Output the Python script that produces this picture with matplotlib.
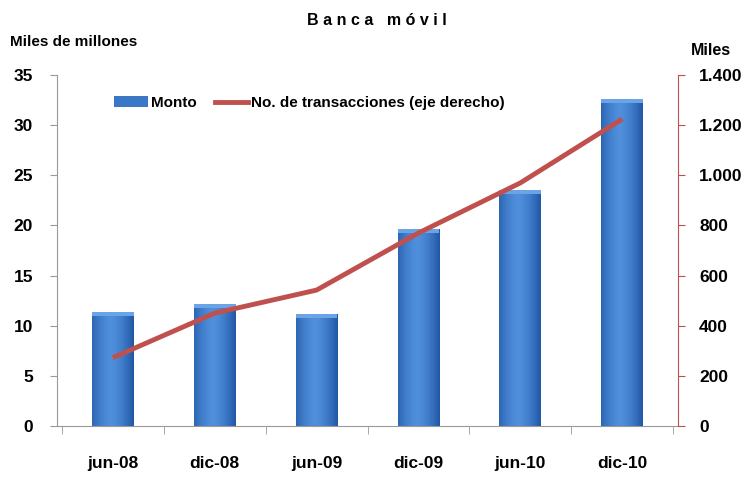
import matplotlib.pyplot as plt
import numpy as np
from matplotlib.patches import Patch
from matplotlib.lines import Line2D
from matplotlib.colors import LinearSegmentedColormap

periodos = ["jun-08", "dic-08", "jun-09", "dic-09", "jun-10", "dic-10"]
monto = [11.4, 12.2, 11.2, 19.6, 23.5, 32.6]          # miles de millones
transacciones = [272, 450, 542, 770, 970, 1225]       # miles

fam = ["Liberation Sans Narrow", "Liberation Sans", "DejaVu Sans"]
plt.rcParams['font.family'] = fam

fig = plt.figure(figsize=(7.47, 4.79), dpi=100)
ax = fig.add_axes([0.076, 0.111, 0.832, 0.732])
ax2 = ax.twinx()

x = np.arange(len(periodos))
bars = ax.bar(x, monto, width=0.41, color="#3a77c6", zorder=2)

# gradient fill on bars
grad = np.linspace(0, 1, 64)
grad = 1 - (2 * np.abs(grad - 0.45)) ** 1.5
grad = np.tile(grad, (2, 1))
cmap = LinearSegmentedColormap.from_list("b", ["#2258a6", "#4f8fdc"])
for b in bars:
    bx, by, bw, bh = b.get_x(), b.get_y(), b.get_width(), b.get_height()
    im = ax.imshow(grad, cmap=cmap, aspect="auto", extent=[bx, bx + bw, by, by + bh], zorder=2.1)
    im.set_clip_path(b)
    ax.bar(bx + bw / 2, 0.4, bottom=bh - 0.4, width=bw, color="#6aa3e6", zorder=2.2)

ax2.plot(x, transacciones, color="#c0504d", lw=3.5, zorder=3, solid_capstyle="butt")

ax.set_xlim(-0.55, 5.55)
ax.set_ylim(0, 35)
ax2.set_ylim(0, 1400)
ax.set_yticks(range(0, 36, 5))
ax2.set_yticks(range(0, 1401, 200))
ax2.set_yticklabels([f"{v:,}".replace(",", ".") for v in range(0, 1401, 200)])

ax.set_xticks(x)
ax.set_xticklabels(periodos)
ax.set_xticks(np.arange(-0.5, 5.6, 1), minor=True)
ax.tick_params(axis="x", which="major", length=0, pad=22)
ax.tick_params(axis="x", which="minor", length=6, color="#999999", direction="out")

for lab in ax.get_xticklabels() + ax.get_yticklabels() + ax2.get_yticklabels():
    lab.set_fontweight("bold")
    lab.set_fontsize(12.5)
ax.tick_params(axis="y", length=5, color="#999999", pad=12)
ax2.tick_params(axis="y", length=5, color="#c0504d", pad=10)

for a in (ax, ax2):
    a.spines["top"].set_visible(False)
ax.spines["left"].set_color("#999999")
ax.spines["bottom"].set_color("#999999")
ax.spines["right"].set_visible(False)
ax2.spines["left"].set_visible(False)
ax2.spines["bottom"].set_visible(False)
ax2.spines["right"].set_color("#c0504d")

fig.text(0.505, 0.958, "B a n c a   m ó v i l", ha="center", va="center",
         fontsize=11.5, fontweight="bold")
fig.text(0.013, 0.912, "Miles de millones", ha="left", va="center", fontsize=11, fontweight="bold")
fig.text(0.925, 0.895, "Miles", ha="left", va="center", fontsize=11.5, fontweight="bold")

handles = [Patch(facecolor="#3a77c6"), Line2D([0], [0], color="#c0504d", lw=3.5)]
ax.legend(handles, ["Monto", "No. de transacciones (eje derecho)"], loc="upper left",
          bbox_to_anchor=(0.07, 0.98), ncol=2, frameon=False, handlelength=2.2,
          handletextpad=0.2, columnspacing=1.2, prop={"weight": "bold", "size": 11})

fig.savefig("out.png", dpi=100)
